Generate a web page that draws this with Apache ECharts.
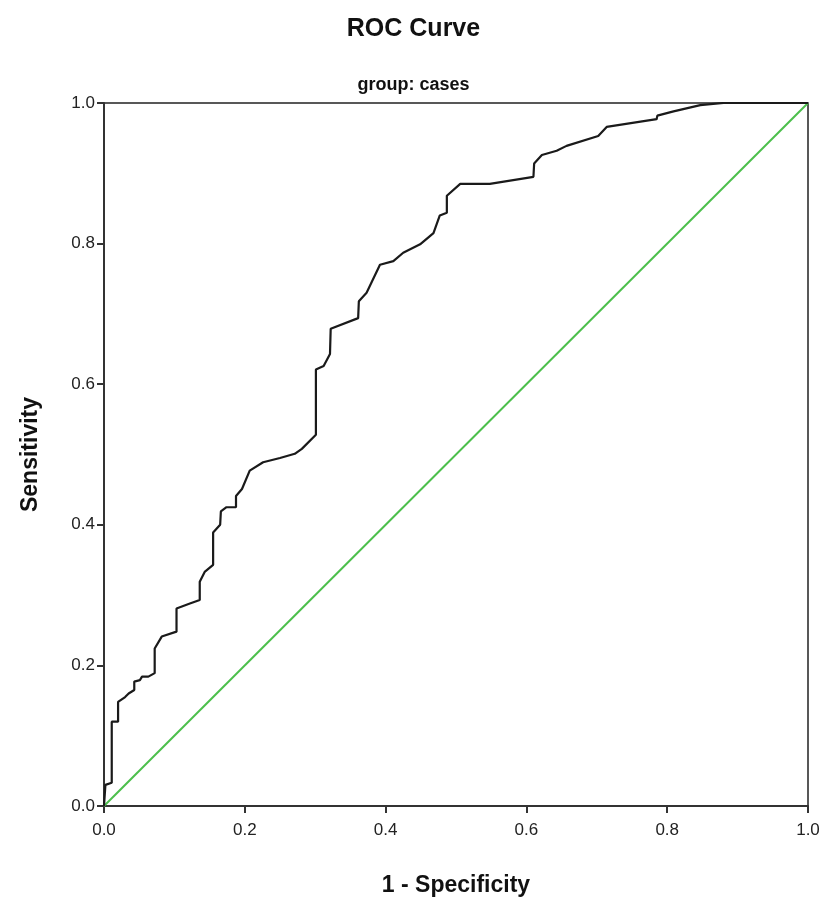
<!DOCTYPE html>
<html><head><meta charset="utf-8">
<script src="https://cdn.jsdelivr.net/npm/echarts@6/dist/echarts.min.js"></script>
<style>html,body{margin:0;padding:0;background:#fff}#c{width:827px;height:902px}</style>
</head><body><div id="c"></div>
<script>
var rocX = [0, 0.002, 0.011, 0.011, 0.02, 0.02, 0.03, 0.035, 0.043, 0.043, 0.051, 0.054, 0.063, 0.072, 0.072, 0.082, 0.103, 0.103, 0.122, 0.136, 0.136, 0.143, 0.155, 0.155, 0.165, 0.166, 0.174, 0.1875, 0.1875, 0.196, 0.207, 0.226, 0.25, 0.271, 0.281, 0.301, 0.301, 0.312, 0.321, 0.322, 0.361, 0.362, 0.373, 0.392, 0.411, 0.425, 0.449, 0.468, 0.477, 0.487, 0.487, 0.506, 0.548, 0.61, 0.611, 0.622, 0.643, 0.657, 0.702, 0.714, 0.785, 0.786, 0.809, 0.847, 0.88, 1.0];
var rocY = [0, 0.03, 0.033, 0.12, 0.12, 0.148, 0.155, 0.16, 0.165, 0.177, 0.179, 0.184, 0.184, 0.189, 0.224, 0.241, 0.248, 0.281, 0.288, 0.293, 0.319, 0.333, 0.343, 0.389, 0.400, 0.419, 0.425, 0.425, 0.441, 0.451, 0.477, 0.489, 0.495, 0.501, 0.508, 0.528, 0.621, 0.626, 0.643, 0.679, 0.694, 0.718, 0.730, 0.770, 0.775, 0.787, 0.799, 0.815, 0.840, 0.844, 0.868, 0.885, 0.885, 0.895, 0.914, 0.926, 0.932, 0.939, 0.953, 0.966, 0.977, 0.982, 0.988, 0.997, 1.0, 1.0];
var refX = [0, 1];
var refY = [0, 1];
var tickLabels = ['0.0', '0.2', '0.4', '0.6', '0.8', '1.0'];

var rocData = rocX.map(function (x, i) { return [x, rocY[i]]; });
var refData = refX.map(function (x, i) { return [x, refY[i]]; });

var chart = echarts.init(document.getElementById('c'), null, {renderer: 'canvas'});
var fmt = function (v) { return tickLabels[Math.round(v * 5)]; };
chart.setOption({
  animation: false,
  backgroundColor: '#fff',
  title: [
    {text: 'ROC Curve', left: 'center', top: 12, textStyle: {fontFamily: 'Liberation Sans', fontSize: 25, fontWeight: 'bold', color: '#111'}},
    {text: 'group: cases', left: 'center', top: 71, textStyle: {fontFamily: 'Liberation Sans', fontSize: 18, fontWeight: 'bold', color: '#111'}}
  ],
  grid: {left: 104, right: 19, top: 103, bottom: 94, show: true, borderColor: '#222', borderWidth: 1.5, backgroundColor: '#fff'},
  xAxis: {
    type: 'value', min: 0, max: 1, interval: 0.2,
    name: '1 - Specificity', nameLocation: 'middle', nameGap: 68,
    nameTextStyle: {fontFamily: 'Liberation Sans', fontSize: 23, fontWeight: 'bold', color: '#111'},
    axisLine: {show: true, lineStyle: {color: '#333', width: 2}},
    axisTick: {show: true, inside: false, length: 7, lineStyle: {color: '#333', width: 2}},
    axisLabel: {formatter: fmt, fontFamily: 'Liberation Sans', fontSize: 17, color: '#222', margin: 16},
    splitLine: {show: false}
  },
  yAxis: {
    type: 'value', min: 0, max: 1, interval: 0.2,
    name: 'Sensitivity', nameLocation: 'middle', nameGap: 62,
    nameTextStyle: {fontFamily: 'Liberation Sans', fontSize: 23, fontWeight: 'bold', color: '#111'},
    axisLine: {show: true, lineStyle: {color: '#333', width: 2}},
    axisTick: {show: true, inside: false, length: 7, lineStyle: {color: '#333', width: 2}},
    axisLabel: {formatter: fmt, fontFamily: 'Liberation Sans', fontSize: 17, color: '#222', margin: 9},
    splitLine: {show: false}
  },
  series: [
    {type: 'line', data: refData, showSymbol: false, lineStyle: {color: '#4cbf4c', width: 2}, z: 2},
    {type: 'line', data: rocData, showSymbol: false, lineStyle: {color: '#1a1a1a', width: 2.2}, z: 3}
  ]
});
</script></body></html>
